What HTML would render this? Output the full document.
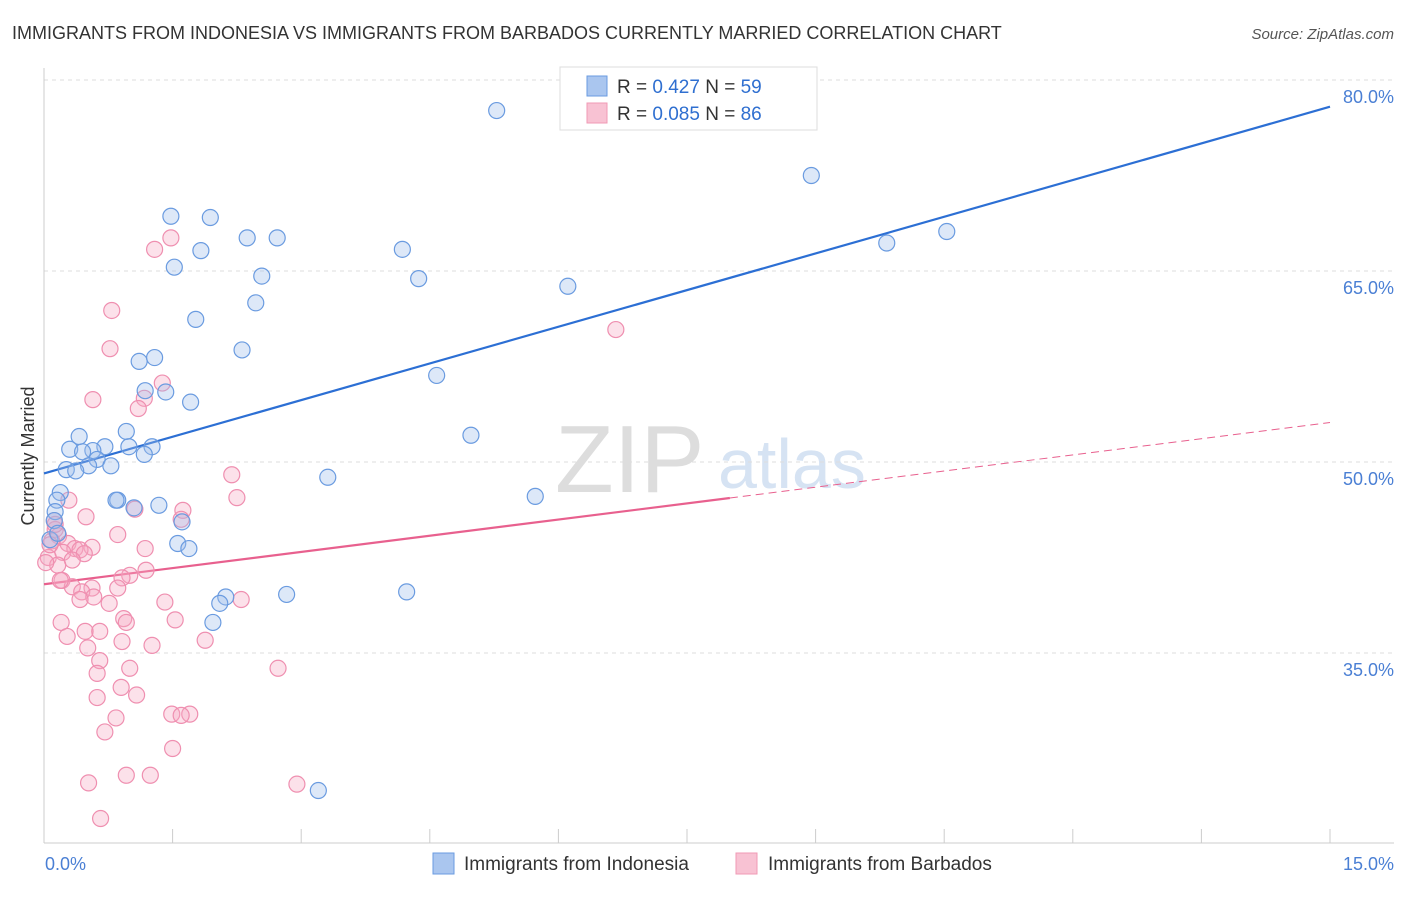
<!DOCTYPE html>
<html><head><meta charset="utf-8"><style>
body{margin:0;background:#fff;font-family:"Liberation Sans",sans-serif;}
svg text{font-family:"Liberation Sans",sans-serif;}
</style></head><body>
<svg id="chart" width="1406" height="892" xmlns="http://www.w3.org/2000/svg">
<text x="12" y="39" font-size="18" fill="#333">IMMIGRANTS FROM INDONESIA VS IMMIGRANTS FROM BARBADOS CURRENTLY MARRIED CORRELATION CHART</text>
<text x="1394" y="39" font-size="15" fill="#555" text-anchor="end" font-style="italic">Source: ZipAtlas.com</text>
<text x="555" y="492" font-size="96" fill="#ddd" font-family="Liberation Serif">ZIP</text>
<text x="718" y="488" font-size="70" fill="#d6e3f3">atlas</text>
<g id="grid"></g><g id="axes"></g><g id="lines"></g><g id="pts"></g>
<text transform="translate(34,456) rotate(-90)" font-size="18" fill="#333" text-anchor="middle">Currently Married</text>
<text x="45" y="870" font-size="18" fill="#4a7fd4">0.0%</text>
<text x="1394" y="870" font-size="18" fill="#4a7fd4" text-anchor="end">15.0%</text>
<g>
<rect x="560" y="67" width="257" height="63" fill="#fff" stroke="#ddd"/>
<rect x="587" y="76" width="20" height="20" fill="#aac6ef" stroke="#6a9be0"/>
<rect x="587" y="103" width="20" height="20" fill="#f8c2d3" stroke="#f09ab5"/>
<text x="617" y="93" font-size="19" fill="#333">R = <tspan fill="#2f6fd0">0.427</tspan>   N = <tspan fill="#2f6fd0">59</tspan></text>
<text x="617" y="120" font-size="19" fill="#333">R = <tspan fill="#2f6fd0">0.085</tspan>   N = <tspan fill="#2f6fd0">86</tspan></text>
</g>
<g>
<rect x="433" y="853" width="21" height="21" fill="#aac6ef" stroke="#6a9be0"/>
<text x="464" y="870" font-size="19" fill="#333">Immigrants from Indonesia</text>
<rect x="736" y="853" width="21" height="21" fill="#f8c2d3" stroke="#f09ab5"/>
<text x="768" y="870" font-size="19" fill="#333">Immigrants from Barbados</text>
</g>
</svg>
<script>
const yTicks=[35,50,65,80];
const xTicks=[0,1.5,3,4.5,6,7.5,9,10.5,12,13.5,15];
const blueX=[5.28,8.95,1.48,1.94,9.83,10.53,2.37,2.72,1.83,1.52,4.18,2.54,4.37,6.11,2.47,1.77,2.31,1.29,1.11,4.58,1.18,1.42,1.71,4.98,0.96,0.41,0.30,1.26,0.99,0.71,0.57,1.17,0.45,0.62,0.78,0.52,0.26,0.37,3.31,5.73,0.19,0.86,0.15,0.84,1.34,1.05,0.13,1.61,0.12,1.56,1.69,2.83,4.23,2.12,2.05,1.97,3.20,0.07,0.16];
const blueY=[77.6,72.5,69.3,69.2,67.2,68.1,67.6,67.6,66.6,65.3,66.7,64.6,64.4,63.8,62.5,61.2,58.8,58.2,57.9,56.8,55.6,55.5,54.7,52.1,52.4,52.0,51.0,51.2,51.2,51.2,50.9,50.6,50.8,50.2,49.7,49.7,49.4,49.3,48.8,47.3,47.6,47.0,47.0,47.0,46.6,46.4,46.1,45.3,45.4,43.6,43.2,39.6,39.8,39.4,38.9,37.4,24.2,43.9,44.4];
const pinkX=[6.67,1.29,1.48,0.79,0.77,1.38,0.57,1.17,1.10,2.19,2.25,0.29,1.06,1.62,1.60,0.49,0.12,0.13,0.17,0.86,0.09,0.28,0.36,0.56,1.18,0.42,0.22,0.47,0.05,0.33,0.16,1.19,1.00,0.91,0.21,0.33,0.56,0.86,0.44,0.58,0.42,0.76,1.41,2.30,0.93,1.53,0.20,0.96,0.48,0.65,0.27,1.88,0.91,1.26,0.51,0.65,1.00,2.73,0.62,0.90,0.62,1.08,1.49,1.70,1.60,0.84,0.71,1.50,0.96,1.24,0.52,2.95,0.66,0.07,0.13,0.02,0.19];
const pinkY=[60.4,66.7,67.6,61.9,58.9,56.2,54.9,55.0,54.2,49.0,47.2,47.0,46.3,46.2,45.5,45.7,45.4,44.7,44.2,44.3,43.8,43.6,43.2,43.3,43.2,43.1,42.9,42.8,42.5,42.3,41.9,41.5,41.1,40.9,40.7,40.2,40.1,40.1,39.8,39.4,39.2,38.9,39.0,39.2,37.7,37.6,37.4,37.4,36.7,36.7,36.3,36.0,35.9,35.6,35.4,34.4,33.8,33.8,33.4,32.3,31.5,31.7,30.2,30.2,30.1,29.9,28.8,27.5,25.4,25.4,24.8,24.7,22.0,43.5,45.1,42.1,40.7];
const blueTrend=[49.1,77.9];
const pinkTrend=[40.4,53.1];
const pinkSolidEnd=8.0;
const NS="http://www.w3.org/2000/svg";
const X=v=>44+v/15*1286;
const Y=v=>80+(80-v)/15*191;
function mk(tag,attrs,parent){const e=document.createElementNS(NS,tag);for(const k in attrs)e.setAttribute(k,attrs[k]);document.getElementById(parent).appendChild(e);return e;}
yTicks.forEach(t=>{
 const l=mk('line',{x1:44,x2:1394,y1:Y(t),y2:Y(t),stroke:'#ddd','stroke-dasharray':'4,4'},'grid');
 
 
 const tx=mk('text',{x:1394,y:Y(t)+23,'font-size':18,fill:'#4a7fd4','text-anchor':'end'},'grid');
 tx.textContent=t.toFixed(1)+'%';
 
 
});
const ax=mk('line',{x1:44,x2:1394,y1:843,y2:843,stroke:'#ccc'},'axes');


const ay=mk('line',{x1:44,x2:44,y1:68,y2:843,stroke:'#ccc'},'axes');


xTicks.forEach(t=>{
 const l=mk('line',{x1:X(t),x2:X(t),y1:829,y2:843,stroke:'#ccc'},'axes');
 
 
});
function drawPts(xs,ys,fill,stroke,name){
 xs.forEach((x,i)=>{
  const c=mk('circle',{cx:X(x),cy:Y(ys[i]),r:8,fill:fill,'fill-opacity':0.35,stroke:stroke,'stroke-width':1.2},'pts');
  
  
 });
}
drawPts(pinkX,pinkY,'#f5a9c2','#ef8fb0','point-barbados');
drawPts(blueX,blueY,'#9dbdec','#6a9be0','point-indonesia');
const bl=mk('line',{x1:X(0),y1:Y(blueTrend[0]),x2:X(15),y2:Y(blueTrend[1]),stroke:'#2c6fd4','stroke-width':2.2},'lines');


const pAt=x=>pinkTrend[0]+(pinkTrend[1]-pinkTrend[0])*x/15;
const ps=mk('line',{x1:X(0),y1:Y(pinkTrend[0]),x2:X(pinkSolidEnd),y2:Y(pAt(pinkSolidEnd)),stroke:'#e8608e','stroke-width':2.2},'lines');


const pd=mk('line',{x1:X(pinkSolidEnd),y1:Y(pAt(pinkSolidEnd)),x2:X(15),y2:Y(pinkTrend[1]),stroke:'#e8608e','stroke-width':1,'stroke-dasharray':'8,5'},'lines');


</script>
</body></html>
